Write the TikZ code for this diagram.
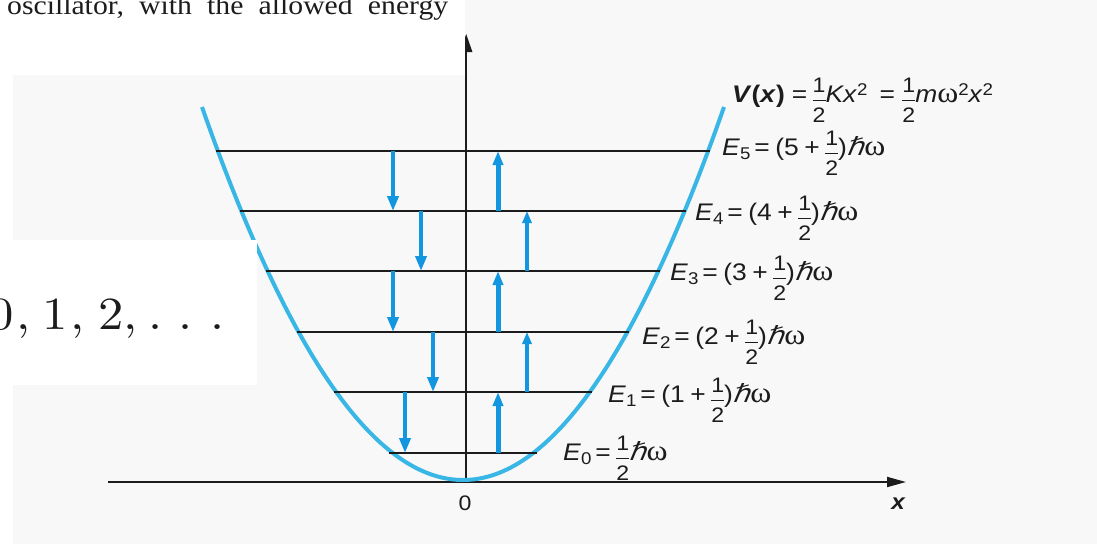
\documentclass[tikz,border=0pt]{standalone}
\usepackage{fontspec}
\usetikzlibrary{arrows.meta}
\newfontfamily\lab[FakeStretch=1.1]{Liberation Sans}
\newfontfamily\serf[FakeStretch=1.1]{Liberation Serif}
\newfontfamily\hbf[FakeSlant=0.2,FakeStretch=1.1]{DejaVu Sans}
\newfontfamily\lmr[FakeStretch=1.1]{lmroman10-regular.otf}
\definecolor{parab}{RGB}{56,182,230}
\definecolor{arr}{RGB}{19,150,224}
\definecolor{panel}{RGB}{248,248,248}
\definecolor{ink}{RGB}{28,28,28}
\newcommand{\fsm}{\fontsize{21}{21}\selectfont}
\newcommand{\fss}{\fontsize{17}{17}\selectfont}
\newcommand{\hf}{\raisebox{-20.5pt}{\vbox{\offinterlineskip\fsm\halign{\hfil##\hfil\cr 1\cr\noalign{\kern7pt\hrule height 0.8pt\kern7.5pt}2\cr}}}}
\newcommand{\sbs}[1]{\raisebox{-4.5pt}{\fss #1}}
\newcommand{\sps}[1]{\raisebox{6.5pt}{\fss #1}}
\newcommand{\eqs}{\hspace{4pt}=\hspace{5.5pt}}
\newcommand{\pls}{\hspace{5.5pt}+\hspace{5.5pt}}
\newcommand{\hbr}{{\hbf\fontsize{25}{25}\selectfont ℏ}}
\newcommand{\omg}{{\serf\fontsize{29}{29}\selectfont ω}}
\newcommand{\En}[1]{\textit{E}\sbs{#1}\eqs(#1\pls\hf)\hbr\omg}
\tikzset{
  lvl/.style={draw=ink, line width=1.3pt},
  axis/.style={draw=ink, line width=1.8pt},
  dnarr/.style={draw=arr, line width=4pt, -{Triangle[length=15pt,width=11pt]}},
  upthick/.style={draw=arr, line width=5pt, -{Triangle[length=14pt,width=10pt]}},
  upthin/.style={draw=arr, line width=3.5pt, -{Triangle[length=12pt,width=9pt]}},
  elab/.style={anchor=base west, inner sep=0pt, text=ink, font=\lab\fontsize{24}{28}\selectfont},
}
\begin{document}
\begin{tikzpicture}[x=1pt,y=-1pt]
\useasboundingbox (0,0) rectangle (1097,544);
\fill[white] (0,0) rectangle (1097,544);
\fill[panel] (13,0) rectangle (1097,544);
% axes
\coordinate (xs) at (108,482);
\coordinate (xe) at (906,482);
\coordinate (ys) at (466.2,482);
\coordinate (ye) at (466.2,34);
\draw[axis, -{Triangle[length=19pt,width=10pt]}] (xs) -- (xe);
\draw[axis, -{Triangle[length=18pt,width=12pt]}] (ys) -- (ye);
% parabola
\draw[parab, line width=4pt] plot[domain=-261:261, samples=121, smooth] ({463+\x},{480-373*(\x/261)^2});
% levels
\foreach \n/\y/\l/\r in {0/453/389/537, 1/392/334/592, 2/332/297/629, 3/271/266/660, 4/211/240/686, 5/151/216/710} {
  \coordinate (L\n) at (\l,\y);
  \coordinate (R\n) at (\r,\y);
  \draw[lvl] (L\n) -- (R\n);
}
% transition arrows
\foreach \i/\x/\a/\b in {1/393/151/211, 2/421/211/271, 3/393/271/332, 4/433/332/392, 5/405/392/453} {
  \coordinate (da\i) at (\x,\a);
  \coordinate (db\i) at (\x,\b);
  \draw[dnarr] (da\i) -- (db\i);
}
\foreach \i/\x/\a/\b/\s in {1/498/453/392/upthick, 2/527/392/332/upthin, 3/498/332/271/upthick, 4/527/271/211/upthin, 5/498/211/151/upthick} {
  \coordinate (ua\i) at (\x,\a);
  \coordinate (ub\i) at (\x,\b);
  \draw[\s] (ua\i) -- (ub\i);
}
% labels
\node[elab] (V) at (732,102) {\textbf{\textit{V}(\textit{x})}\hspace{3pt}\eqs\hf\textit{Kx}\sps{2}\hspace{8pt}\eqs\hspace{2pt}\hf\textit{m}\omg\sps{2}\textit{x}\sps{2}};
\node[elab] (E5) at (722,155) {\En{5}};
\node[elab] (E4) at (695,220) {\En{4}};
\node[elab] (E3) at (670,280) {\En{3}};
\node[elab] (E2) at (642,344) {\En{2}};
\node[elab] (E1) at (608,402) {\En{1}};
\node[elab] (E0) at (563,460) {\textit{E}\sbs{0}\eqs\hf\hbr\omg};
\node[anchor=base, inner sep=0pt, text=ink, font=\lab\fontsize{21}{25}\selectfont] (zero) at (465,510) {0};
\node[anchor=base, inner sep=0pt, text=ink, font=\lab\bfseries\itshape\fontsize{22}{25}\selectfont] (xl) at (898,509) {x};
% overlaid page fragments
\fill[white] (0,0) rectangle (465,75);
\fill[white] (0,240) rectangle (257,385);
\node[anchor=base west, inner sep=0pt, text=ink, font=\serf\fontsize{27}{27}\selectfont] (top) at (7,14) {\hbox to 441pt{oscillator,\hfil with\hfil the\hfil allowed\hfil energy}};
\node[anchor=base west, inner sep=0pt, text=ink, font=\lmr\fontsize{46}{46}\selectfont] (seq) at (-11.8,329) {0\kern2.4pt,\kern12.4pt 1\kern2.2pt,\kern14pt 2\kern0pt,\kern11pt.\kern15.9pt.\kern17.9pt.};
\end{tikzpicture}
\end{document}
